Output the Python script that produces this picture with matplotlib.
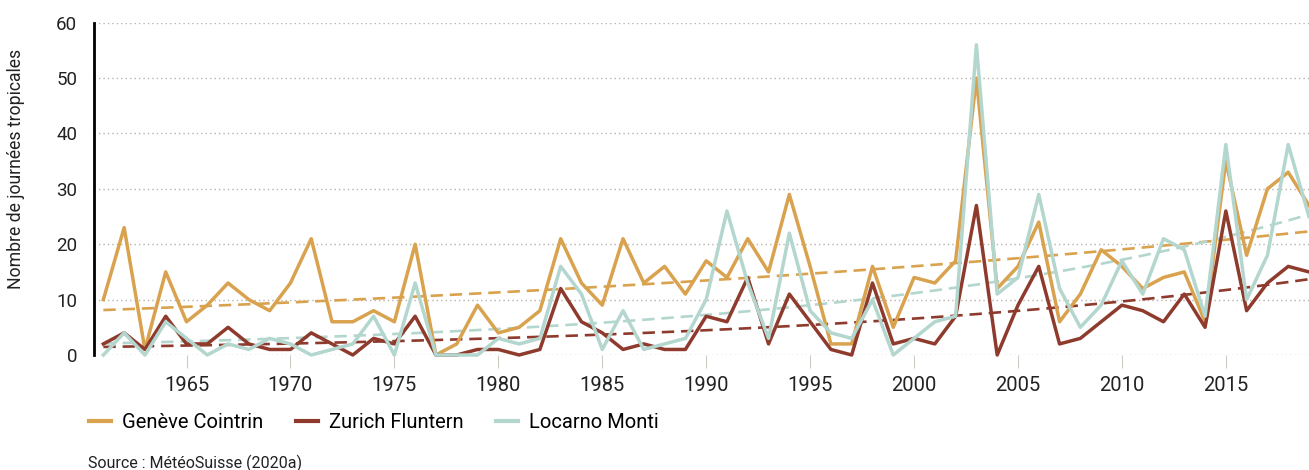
import matplotlib
matplotlib.use("Agg")
import matplotlib.pyplot as plt
import numpy as np

years = list(range(1961, 2020))

geneve = [10, 23, 1, 15, 6, 9, 13, 10, 8, 13,
          21, 6, 6, 8, 6, 20, 0, 2, 9, 4,
          5, 8, 21, 13, 9, 21, 13, 16, 11, 17,
          14, 21, 15, 29, 16, 2, 2, 16, 5, 14,
          13, 17, 50, 12, 16, 24, 6, 11, 19, 16,
          12, 14, 15, 6, 35, 18, 30, 33, 27]
zurich = [2, 4, 1, 7, 2, 2, 5, 2, 1, 1,
          4, 2, 0, 3, 2, 7, 0, 0, 1, 1,
          0, 1, 12, 6, 4, 1, 2, 1, 1, 7,
          6, 14, 2, 11, 6, 1, 0, 13, 2, 3,
          2, 7, 27, 0, 9, 16, 2, 3, 6, 9,
          8, 6, 11, 5, 26, 8, 13, 16, 15]
locarno = [0, 4, 0, 6, 3, 0, 2, 1, 3, 2,
           0, 1, 2, 7, 0, 13, 0, 0, 0, 3,
           2, 3, 16, 11, 1, 8, 1, 2, 3, 10,
           26, 13, 3, 22, 8, 4, 3, 10, 0, 3,
           6, 7, 56, 11, 14, 29, 12, 5, 9, 17,
           11, 21, 19, 7, 38, 10, 18, 38, 25]

labels = ["Genève Cointrin", "Zurich Fluntern", "Locarno Monti"]
colors = ["#D9A24E", "#8E3B2E", "#B3D6CE"]
series = [geneve, zurich, locarno]


def exp_trend(x, y):
    # least squares fit of y = a * exp(b * t), Gauss-Newton
    t = x - x.mean()
    y = np.asarray(y, float)
    a, b = y.mean(), 0.02
    for _ in range(200):
        f = a * np.exp(b * t)
        J = np.column_stack([np.exp(b * t), a * t * np.exp(b * t)])
        step, *_ = np.linalg.lstsq(J, y - f, rcond=None)
        a, b = a + step[0], b + step[1]
    return a * np.exp(b * t)


plt.rcParams['font.family'] = ['Roboto', 'DejaVu Sans']

fig = plt.figure(figsize=(13.09, 4.70), dpi=100)
ax = fig.add_axes([94 / 1309, 1 - 355 / 470, 1 - 94 / 1309, (355 - 22.7) / 470])

x = np.array(years, float)
for vals, c in zip(series, colors):
    ax.plot(x, exp_trend(x, vals), color=c, lw=1.9, dashes=(4.7, 2.6), zorder=2)

handles = []
for vals, c, lab in zip(series, colors, labels):
    h, = ax.plot(x, vals, color=c, lw=2.5, label=lab, zorder=3, clip_on=False)
    handles.append(h)

ax.set_xlim(1960.55, 2019)
ax.set_ylim(0, 60)
ax.set_yticks(range(0, 61, 10))
ax.set_xticks(range(1965, 2016, 5))
ax.grid(axis='y', linestyle=(0, (1, 2.2)), color='#B9B2A8', lw=1)
ax.set_axisbelow(True)

for s in ['top', 'right', 'bottom']:
    ax.spines[s].set_visible(False)
ax.spines['left'].set_linewidth(2)
ax.spines['left'].set_color('black')

ax.tick_params(axis='y', length=0, pad=12, labelsize=13.5, colors='#222222')
ax.tick_params(axis='x', length=9, width=0.8, color='#CFCAC3', pad=6,
               labelsize=14.5, labelcolor='#222222')
ax.set_ylabel("Nombre de journées tropicales", fontsize=12.7, color='#222222')
ax.yaxis.set_label_coords(-0.0565, 0.56)

fig.legend(handles=handles, labels=labels, loc='center left',
           bbox_to_anchor=(89 / 1309, 1 - 423 / 470), ncol=3, frameon=False,
           fontsize=14.5, handlelength=1.1, handletextpad=0.55, columnspacing=1.6,
           borderpad=0, borderaxespad=0)
for line in fig.legends[0].get_lines():
    line.set_linewidth(3)

fig.text(88 / 1309, 1 - 463 / 470, "Source : MétéoSuisse (2020a)", fontsize=11.5,
         color='#222222', va='center', ha='left')

fig.savefig("out.png", dpi=100)
